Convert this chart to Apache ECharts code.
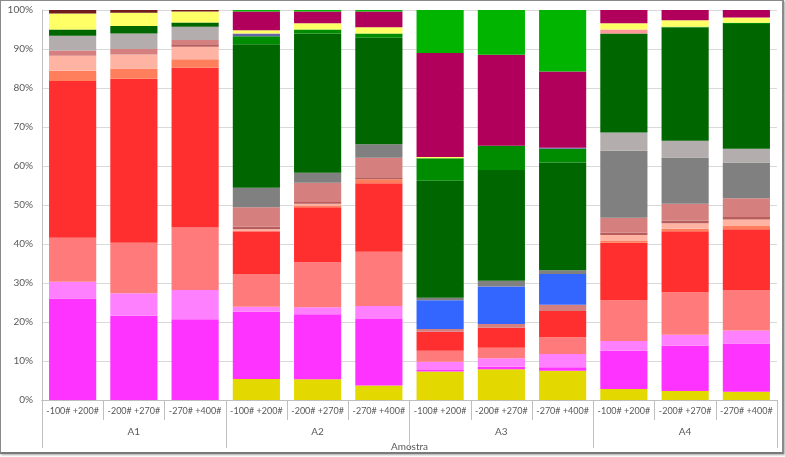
<!DOCTYPE html>
<html>
<head>
<meta charset="utf-8">
<script src="https://cdn.jsdelivr.net/npm/echarts@6/dist/echarts.min.js"></script>
<style>
html,body{margin:0;padding:0;background:#fff;}
#chart{position:absolute;left:0;top:0;width:785px;height:457px;}
#frame{position:absolute;left:0;top:0;width:781px;height:451px;border:1px solid #8a8a8a;border-bottom:2px solid #7a7a7a;border-right:2px solid #8a8a8a;box-shadow:1px 1px 2px rgba(0,0,0,0.35);pointer-events:none;}
</style>
</head>
<body>
<div id="chart"></div>
<div id="frame"></div>
<script>
// Categories
const samples = ['-100# +200#','-200# +270#','-270# +400#','-100# +200#','-200# +270#','-270# +400#','-100# +200#','-200# +270#','-270# +400#','-100# +200#','-200# +270#','-270# +400#'];
const groups = ['A1','A2','A3','A4'];
const yTicks = [0,10,20,30,40,50,60,70,80,90,100];

// Series values (%), bottom to top of stack
const yellowOlive  = [0,0,0, 5.4,5.3,3.7, 7.3,7.9,7.5, 2.8,2.3,2.1];
const magenta      = [26.0,21.6,20.7, 17.2,16.7,17.1, 0.4,0.6,0.9, 9.8,11.6,12.4];
const lightMagenta = [4.3,5.8,7.5, 1.3,1.8,3.3, 2.1,2.2,3.4, 2.5,2.8,3.3];
const salmon       = [11.3,12.9,16.0, 8.4,11.5,13.9, 2.8,2.7,4.3, 10.5,10.9,10.4];
const red          = [40.2,42.1,41.0, 11.0,14.1,17.6, 4.9,5.1,6.7, 14.7,15.7,15.6];
const coral        = [2.6,2.6,2.2, 0,0.5,1.0, 0,0,0, 0.5,0.6,0.8];
const peach        = [3.9,3.6,3.2, 0.5,0.4,0, 0,0,0, 1.5,1.4,1.7];
const darkRose     = [0,0,0.6, 0.6,0.5,0.5, 0,0,0, 0.6,0.7,0.6];
const rosy         = [1.3,1.4,1.1, 5.0,4.9,5.0, 0.7,1.0,1.6, 3.8,4.3,4.8];
const blue         = [0,0,0, 0,0,0, 7.4,9.6,7.9, 0,0,0];
const gray         = [0,0,0, 5.0,2.6,3.5, 0.6,1.5,1.0, 17.2,11.9,9.2];
const lightGray    = [3.8,4.0,3.4, 0,0,0, 0,0,0, 4.7,4.3,3.5];
const darkGreen    = [1.6,1.9,1.1, 36.8,35.7,27.3, 30.0,28.4,27.6, 25.4,29.0,32.0];
const green        = [0,0,0, 2.1,1.0,1.1, 5.8,6.2,3.5, 0,0.2,0.3];
const slate        = [0,0,0, 0.7,0,0, 0,0,0.3, 0,0,0];
const pink         = [0,0,0, 0,0,0, 0,0,0, 1.0,0,0];
const yellowLight  = [4.1,3.4,2.8, 0.8,1.6,1.6, 0.3,0,0, 1.6,1.7,1.4];
const purple       = [0,0,0, 4.8,3.0,4.0, 26.7,23.3,19.5, 3.4,2.6,1.9];
const brightGreen  = [0,0,0, 0.4,0.4,0.4, 11.0,11.5,15.8, 0,0,0];
const brown        = [0.9,0.7,0.4, 0,0,0, 0,0,0, 0,0,0];

const seriesDefs = [
  ['s1', yellowOlive, '#e3d800'],
  ['s2', magenta, '#ff33ff'],
  ['s3', lightMagenta, '#ff80ff'],
  ['s4', salmon, '#ff7b7b'],
  ['s5', red, '#ff2f2f'],
  ['s6', coral, '#ff7f5c'],
  ['s7', peach, '#ffb3a3'],
  ['s8', darkRose, '#b85c5c'],
  ['s9', rosy, '#d67f7f'],
  ['s10', blue, '#3366ff'],
  ['s11', gray, '#808080'],
  ['s12', lightGray, '#b3adad'],
  ['s13', darkGreen, '#006600'],
  ['s14', green, '#008c00'],
  ['s15', slate, '#6666aa'],
  ['s16', pink, '#ff9999'],
  ['s17', yellowLight, '#ffff66'],
  ['s18', purple, '#b0005c'],
  ['s19', brightGreen, '#00b400'],
  ['s20', brown, '#701c1c']
];

const font = 'Lato, "Open Sans", sans-serif';
const chart = echarts.init(document.getElementById('chart'));
chart.setOption({
  animation: false,
  grid: {left: 42, right: 8, top: 10, bottom: 57, containLabel: false, outerBoundsMode: 'none'},
  xAxis: [
    {
      type: 'category', data: samples, position: 'bottom',
      axisLine: {show: true, lineStyle: {color: '#bfbfbf'}},
      axisTick: {show: true, interval: 0, length: 20, lineStyle: {color: '#bfbfbf'}},
      axisLabel: {interval: 0, margin: 7, fontSize: 9, color: '#595959', fontFamily: font}
    },
    {
      type: 'category', data: groups, position: 'bottom',
      axisLine: {show: true, lineStyle: {color: '#bfbfbf'}},
      axisTick: {show: true, interval: 0, length: 48, lineStyle: {color: '#bfbfbf'}},
      axisLabel: {interval: 0, margin: 27, fontSize: 10, color: '#595959', fontFamily: font},
      name: 'Amostra', nameLocation: 'middle', nameGap: 40,
      nameTextStyle: {fontSize: 10, color: '#595959', fontFamily: font}
    }
  ],
  yAxis: {
    type: 'value', min: yTicks[0], max: yTicks[yTicks.length-1], interval: yTicks[1]-yTicks[0],
    axisLine: {show: true, lineStyle: {color: '#bfbfbf'}},
    axisTick: {show: false},
    splitLine: {lineStyle: {color: '#d9d9d9'}},
    axisLabel: {formatter: '{value}%', fontSize: 10, color: '#595959', margin: 9, fontFamily: font}
  },
  series: seriesDefs.map(([name, data, color]) => ({
    name, type: 'bar', stack: 'total', xAxisIndex: 0, data,
    barCategoryGap: '23%',
    itemStyle: {color},
    emphasis: {disabled: true}
  }))
});
</script>
</body>
</html>
